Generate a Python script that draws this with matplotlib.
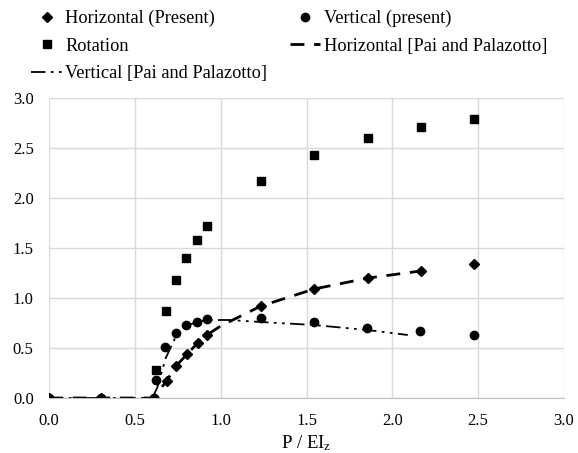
import matplotlib
matplotlib.use("Agg")
import matplotlib.pyplot as plt

plt.rcParams['font.family'] = ['Liberation Serif', 'DejaVu Serif']
plt.rcParams['mathtext.default'] = 'regular'

# Present results (markers)
h_x = [0.0, 0.3, 0.61, 0.685, 0.74, 0.805, 0.866, 0.92, 1.235, 1.545, 1.86, 2.165, 2.475]
h_y = [0.0, 0.0, 0.0, 0.17, 0.32, 0.44, 0.55, 0.63, 0.92, 1.09, 1.20, 1.27, 1.34]

v_x = [0.0, 0.3, 0.61, 0.623, 0.677, 0.738, 0.80, 0.862, 0.92, 1.233, 1.543, 1.854, 2.162, 2.473]
v_y = [0.0, 0.0, 0.0, 0.18, 0.51, 0.65, 0.73, 0.76, 0.79, 0.80, 0.76, 0.70, 0.67, 0.63]

r_x = [0.623, 0.68, 0.74, 0.80, 0.864, 0.92, 1.235, 1.545, 1.86, 2.165, 2.475]
r_y = [0.28, 0.87, 1.18, 1.40, 1.58, 1.72, 2.17, 2.43, 2.60, 2.71, 2.79]

# Pai and Palazotto (lines)
ph_x = [0.0, 0.3, 0.6, 0.63, 0.685, 0.74, 0.805, 0.866, 0.92, 1.0, 1.235, 1.545, 1.86, 2.165]
ph_y = [0.0, 0.0, 0.0, 0.05, 0.17, 0.32, 0.44, 0.55, 0.63, 0.72, 0.92, 1.09, 1.20, 1.27]

pv_x = [0.0, 0.3, 0.6, 0.63, 0.68, 0.74, 0.80, 0.86, 0.92, 1.05, 1.233, 1.543, 1.854, 2.09]
pv_y = [0.0, 0.0, 0.0, 0.10, 0.40, 0.62, 0.72, 0.76, 0.78, 0.78, 0.76, 0.73, 0.68, 0.63]

fig = plt.figure(figsize=(5.78, 4.53), dpi=100)
ax = fig.add_axes([49/578, 1-398/453, (564-49)/578, (398-98)/453])

lph, = ax.plot(ph_x, ph_y, color='black', lw=2.0, dashes=(5, 3.5),
               label='Horizontal [Pai and Palazotto]')
lpv, = ax.plot(pv_x, pv_y, color='black', lw=1.3, dashes=(8, 3, 1.5, 3, 1.5, 3),
               label='Vertical [Pai and Palazotto]')
mh, = ax.plot(h_x, h_y, 'D', color='black', ms=5.5, ls='none', label='Horizontal (Present)')
mv, = ax.plot(v_x, v_y, 'o', color='black', ms=6, ls='none', label='Vertical (present)')
mr, = ax.plot(r_x, r_y, 's', color='black', ms=5.5, ls='none', label='Rotation')

ax.set_xlim(0, 3.0)
ax.set_ylim(0, 3.0)
ticks = [0.0, 0.5, 1.0, 1.5, 2.0, 2.5, 3.0]
ax.set_xticks(ticks)
ax.set_yticks(ticks)
ax.set_xticklabels([f'{t:.1f}' for t in ticks])
ax.set_yticklabels([f'{t:.1f}' for t in ticks])
ax.grid(True, color='#d9d9d9', lw=1.0)
ax.set_axisbelow(True)
for s in ['top', 'right', 'left']:
    ax.spines[s].set_visible(False)
ax.spines['bottom'].set_color('#bfbfbf')
ax.tick_params(length=0, labelsize=12, colors='#404040')
ax.tick_params(axis='y', pad=11)
ax.tick_params(axis='x', pad=11)
for lab in ax.get_xticklabels() + ax.get_yticklabels():
    lab.set_color('black')
ax.set_xlabel('P / EI$_z$', fontsize=13.5, labelpad=3)

handles = [mh, mr, lpv, mv, lph]
fig.legend(handles=handles, labels=[h.get_label() for h in handles],
           loc='upper left', bbox_to_anchor=(15/578, 1.0 + 6.5/453), ncol=2,
           frameon=False, fontsize=13.2, handlelength=1.64, columnspacing=1.26,
           labelspacing=0.57, handletextpad=0.2, borderpad=0.4)

fig.savefig('out.png', dpi=100)
